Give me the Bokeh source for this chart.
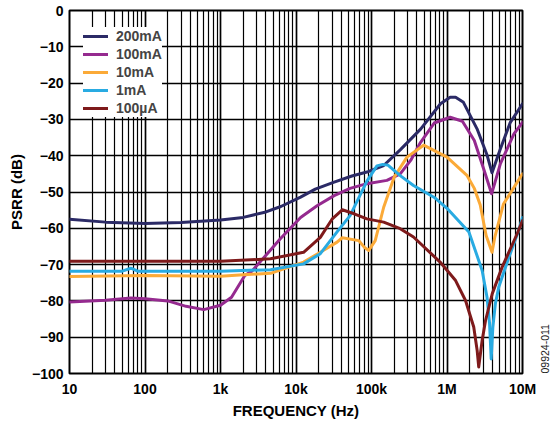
import math
from bokeh.plotting import figure
from bokeh.models import FixedTicker, Legend, LegendItem, LinearAxis, Range1d
from bokeh.embed import file_html
from bokeh.resources import INLINE

# ---- data ----
freq_200mA = [10, 30, 100, 300, 1000, 2000, 4000, 6300, 11500, 18000, 32000, 55000,
              87000, 145000, 240000, 450000, 820000, 1100000, 1300000, 1650000,
              2500000, 3400000, 3950000, 5100000, 6900000, 10000000]
psrr_200mA = [-57.5, -58.3, -58.7, -58.4, -57.7, -57.0, -55.5, -54.0, -51.4, -49.2, -47.3, -45.6,
              -44.5, -42.7, -38.4, -32.6, -25.7, -23.9, -23.9, -25.3,
              -32.6, -39.9, -44.7, -38.1, -30.8, -25.7]

freq_100mA = [10, 30, 65, 100, 200, 350, 600, 1000, 1400, 2100, 2600, 3400, 6200, 11500,
              19000, 32000, 52000, 87000, 160000, 240000, 330000, 447000, 676000,
              1100000, 1600000, 2300000, 3100000, 3900000, 5100000, 7700000, 10000000]
psrr_100mA = [-80.3, -79.8, -79.2, -79.4, -80.0, -81.5, -82.4, -81.2, -79.0, -73.0, -71.8, -69.1, -62.9, -57.0,
              -53.8, -51.0, -49.0, -47.7, -46.8, -45.0, -41.3, -36.3, -31.0,
              -29.4, -30.5, -35.8, -44.0, -50.5, -42.2, -34.0, -30.8]

freq_10mA = [10, 100, 1000, 2000, 4600, 12600, 21000, 35000, 41000, 68000, 80000,
             92000, 112000, 145000, 200000, 295000, 490000, 1000000, 1850000, 2300000,
             2750000, 3300000, 3950000, 4300000, 5600000, 10000000]
psrr_10mA = [-73.3, -73.0, -73.2, -72.8, -72.4, -69.3, -66.6, -63.8, -62.6, -63.4, -65.2,
             -66.1, -63.4, -54.2, -45.9, -40.4, -37.1, -40.4, -45.5, -49.0,
             -53.5, -62.0, -66.6, -62.4, -53.3, -45.0]

freq_1mA = [10, 50, 65, 80, 1000, 4600, 12600, 21000, 35000, 52000, 87000, 118000,
            141000, 165000, 240000, 360000, 680000, 1000000, 1950000, 2920000, 3390000,
            3660000, 3850000, 4050000, 4370000, 4850000, 6600000, 8900000, 10000000]
psrr_1mA = [-71.8, -71.8, -71.0, -71.8, -71.8, -71.4, -69.8, -67.0, -61.0, -56.5, -47.0, -42.8,
            -42.4, -42.6, -45.5, -48.2, -51.5, -54.5, -61.0, -71.6, -79.0,
            -86.2, -96.0, -87.2, -80.8, -76.2, -68.0, -60.6, -57.0]

freq_100uA = [10, 1000, 4600, 12600, 21000, 30000, 41000, 59000, 87000, 145000,
              240000, 360000, 810000, 1300000, 1760000, 2260000, 2510000, 2630000,
              2920000, 3240000, 3980000, 5370000, 8500000, 10000000]
psrr_100uA = [-69.1, -69.1, -68.4, -66.6, -62.5, -57.5, -54.9, -56.0, -57.4, -58.3,
              -60.1, -62.4, -69.3, -74.4, -79.9, -87.2, -93.7, -98.2,
              -90.9, -85.4, -78.0, -70.7, -61.5, -57.9]

series_names = ["200mA", "100mA", "10mA", "1mA", "100µA"]
series_colors = ["#2b2a66", "#952a8f", "#fbaa38", "#29abe2", "#7e1a1b"]

x_ticks = [10, 100, 1000, 10000, 100000, 1000000, 10000000]
x_tick_labels = ["10", "100", "1k", "10k", "100k", "1M", "10M"]
y_ticks = [0, -10, -20, -30, -40, -50, -60, -70, -80, -90, -100]
y_tick_labels = ["0", "\u221210", "\u221220", "\u221230", "\u221240", "\u221250",
                 "\u221260", "\u221270", "\u221280", "\u221290", "\u2212100"]
watermark = "09924-011"

FONT = "Liberation Sans"

p = figure(width=557, height=429, x_axis_type="log",
           x_range=Range1d(10, 1e7), y_range=Range1d(-100, 0),
           output_backend="svg", toolbar_location=None,
           min_border_left=69, min_border_right=35, min_border_top=10, min_border_bottom=56)

minor = []
for d in range(1, 7):
    for k in range(2, 10):
        minor.append(k * 10 ** d)
p.xaxis.ticker = FixedTicker(ticks=x_ticks, minor_ticks=minor)
p.yaxis.ticker = FixedTicker(ticks=y_ticks)
p.xaxis.major_label_overrides = {t: l for t, l in zip(x_ticks, x_tick_labels)}
p.yaxis.major_label_overrides = {t: l for t, l in zip(y_ticks, y_tick_labels)}

for ax in (p.xaxis[0], p.yaxis[0]):
    ax.axis_line_color = None
    ax.major_tick_line_color = None
    ax.minor_tick_line_color = None
    ax.major_tick_out = 0
    ax.major_tick_in = 0
    ax.minor_tick_out = 0
    ax.minor_tick_in = 0
    ax.major_label_text_font = FONT
    ax.major_label_text_font_style = "bold"
    ax.major_label_text_font_size = "14px"
    ax.major_label_text_color = "black"
    ax.axis_label_text_font = FONT
    ax.axis_label_text_font_style = "bold"
    ax.axis_label_text_font_size = "15px"
    ax.axis_label_text_color = "black"

p.xaxis.axis_label = "FREQUENCY (Hz)"
p.yaxis.axis_label = "PSRR (dB)"
p.xaxis.major_label_standoff = 7
p.xaxis.axis_label_standoff = 2
p.yaxis.major_label_standoff = 6
p.yaxis.axis_label_standoff = 4

# watermark drawn as the label of a bare right-hand axis
wm_axis = LinearAxis(ticker=FixedTicker(ticks=[]), axis_label=watermark,
                     axis_line_color=None, major_tick_line_color=None, minor_tick_line_color=None,
                     major_tick_out=0, major_tick_in=0, minor_tick_out=0, minor_tick_in=0,
                     major_label_text_font_size="0px", major_label_standoff=0,
                     axis_label_standoff=22, axis_label_orientation=math.pi / 2,
                     axis_label_text_font=FONT, axis_label_text_font_size="10.5px",
                     axis_label_text_font_style="normal", axis_label_text_color="#222222")
try:
    wm_axis.axis_label_align = "start"
except Exception:
    pass
p.add_layout(wm_axis, "right")

p.xgrid.grid_line_color = "black"
p.xgrid.grid_line_width = 1.7
p.xgrid.minor_grid_line_color = "black"
p.xgrid.minor_grid_line_width = 1.2
p.ygrid.grid_line_color = "black"
p.ygrid.grid_line_width = 1.4

p.outline_line_color = "black"
p.outline_line_width = 2

all_f = [freq_200mA, freq_100mA, freq_10mA, freq_1mA, freq_100uA]
all_v = [psrr_200mA, psrr_100mA, psrr_10mA, psrr_1mA, psrr_100uA]
renderers = []
for f, v, c in zip(all_f, all_v, series_colors):
    r = p.line(f, v, line_width=3, color=c, line_join="round", line_cap="round")
    renderers.append(r)

items = [LegendItem(label=n, renderers=[r]) for n, r in zip(series_names, renderers)]
legend = Legend(items=items, location=(14, 256), margin=0, padding=4, spacing=0,
                label_height=18, glyph_height=18, glyph_width=25, label_standoff=8,
                border_line_color=None, background_fill_color="white", background_fill_alpha=1,
                label_text_font=FONT, label_text_font_style="bold", label_text_font_size="14px")
p.add_layout(legend)

open("out.html", "w").write(file_html(p, INLINE))
